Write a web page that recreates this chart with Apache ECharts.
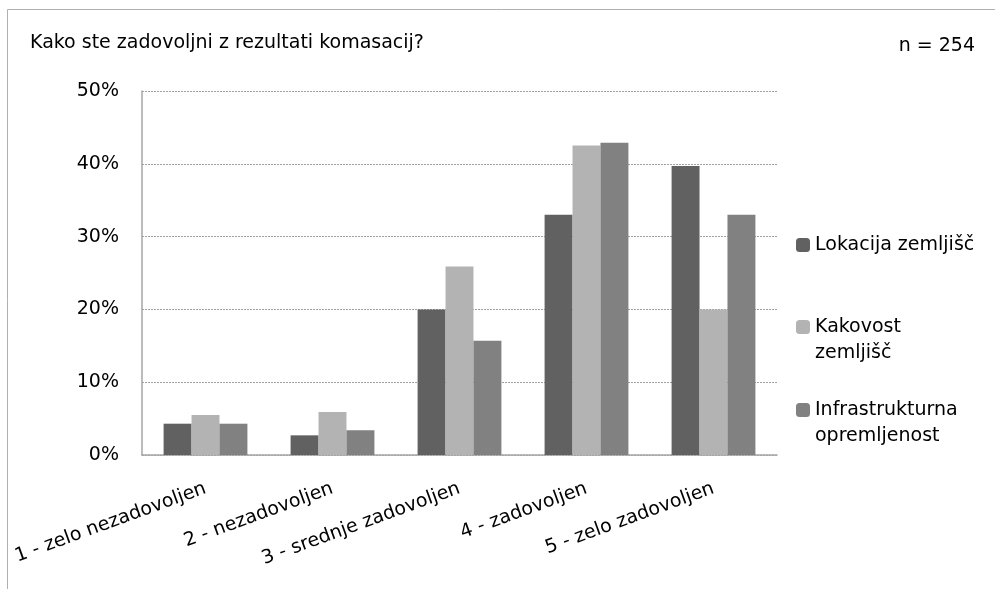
<!DOCTYPE html>
<html>
<head>
<meta charset="utf-8">
<script src="https://cdn.jsdelivr.net/npm/echarts@6/dist/echarts.min.js"></script>
<style>html,body{margin:0;padding:0;background:#fff}#c{width:995px;height:589px}</style>
</head>
<body>
<div id="c"></div>
<script>
const categories = ['1 - zelo nezadovoljen', '2 - nezadovoljen', '3 - srednje zadovoljen', '4 - zadovoljen', '5 - zelo zadovoljen'];
const seriesNames = ['Lokacija zemljišč', 'Kakovost zemljišč', 'Infrastrukturna opremljenost'];
const legendLabels = ['Lokacija zemljišč', '\nKakovost\nzemljišč', '\nInfrastrukturna\nopremljenost'];
const lokacija = [4.3, 2.7, 20.0, 33.0, 39.7];
const kakovost = [5.5, 5.9, 25.9, 42.5, 20.0];
const infrastruktura = [4.3, 3.4, 15.7, 42.9, 33.0];
const yTicks = [0, 10, 20, 30, 40, 50];

const FONT = 'DejaVu Sans';
const FS = 19;
const colors = ['#616161', '#b3b3b3', '#818181'];
const chart = echarts.init(document.getElementById('c'));
const mkLegend = (i, top) => ({
  orient: 'vertical', left: 796, top: top, padding: 0,
  itemWidth: 14, itemHeight: 14, itemGap: 0,
  data: [seriesNames[i]],
  formatter: () => legendLabels[i],
  textStyle: {fontFamily: FONT, fontSize: FS, color: '#000', lineHeight: 26}
});
chart.setOption({
  animation: false,
  textStyle: {fontFamily: FONT},
  title: [
    {text: 'Kako ste zadovoljni z rezultati komasacij?', left: 30, top: 34, padding: 0,
     textStyle: {fontFamily: FONT, fontSize: FS, fontWeight: 'normal', color: '#000'}},
    {text: 'n = 254', right: 20, top: 37, padding: 0,
     textStyle: {fontFamily: FONT, fontSize: FS, fontWeight: 'normal', color: '#000'}}
  ],
  graphic: [{type: 'rect', shape: {x: 7.5, y: 9.5, width: 1000, height: 600}, style: {fill: 'none', stroke: '#b0b0b0', lineWidth: 1}, silent: true}],
  legend: [mkLegend(0, 232), mkLegend(1, 288), mkLegend(2, 371)],
  grid: {left: 142, right: 218, top: 91, bottom: 134, containLabel: false},
  xAxis: {
    type: 'category', data: categories,
    axisLine: {lineStyle: {color: '#a6a6a6', width: 1.5}},
    axisTick: {show: false},
    axisLabel: {interval: 0, rotate: 20, margin: 33, fontFamily: FONT, fontSize: FS, color: '#000'}
  },
  yAxis: {
    type: 'value', min: yTicks[0], max: yTicks[yTicks.length - 1], interval: 10,
    axisLine: {show: true, lineStyle: {color: '#a6a6a6', width: 1.5}},
    axisTick: {show: false},
    axisLabel: {margin: 23, fontFamily: FONT, fontSize: FS, color: '#000', formatter: v => v + '%'},
    splitLine: {lineStyle: {color: '#a0a0a0', type: [2, 1], width: 1}}
  },
  series: [lokacija, kakovost, infrastruktura].map((d, i) => ({
    name: seriesNames[i], type: 'bar', data: d,
    barGap: '0%', barCategoryGap: '34%',
    itemStyle: {color: colors[i]}
  }))
});
</script>
</body>
</html>
